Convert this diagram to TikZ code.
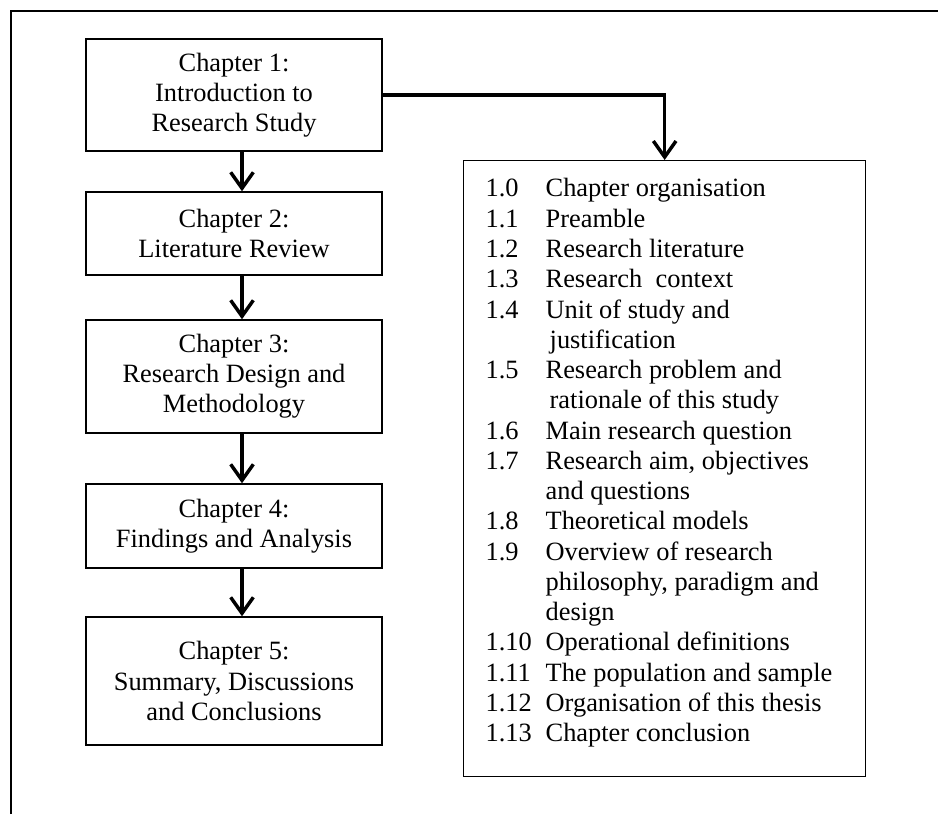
\documentclass[tikz,border=0pt]{standalone}
\usepackage{fontspec}
\setmainfont{Liberation Serif}
\usetikzlibrary{arrows.meta}
\newcommand{\tocitem}[2]{\makebox[45pt][l]{#1}#2}

\begin{document}
\begin{tikzpicture}[
  x=0.75pt, y=-0.75pt,
  chapbox/.style={draw, line width=1.1pt, minimum width=222pt, inner sep=0pt,
              align=center, font=\fontsize{19.8}{22.6}\selectfont},
  arrow/.style={-{Straight Barb[length=12pt, width=17pt]}, line width=2.6pt},
  tocbox/.style={draw, line width=1pt, anchor=north west,
              inner xsep=16.5pt, inner ysep=13.5pt,
              font=\fontsize{19.8}{22.7}\selectfont},
]
  \useasboundingbox (0,0) rectangle (938,814);
  \draw[line width=1.5pt] (11,814) -- (11,11) -- (938,11);

  \node[chapbox, minimum height=84pt]    (ch1) at (234,95)    {Chapter 1:\\Introduction to\\Research Study};
  \node[chapbox, minimum height=62.25pt] (ch2) at (234,233.5) {Chapter 2:\\Literature Review};
  \node[chapbox, minimum height=84.75pt] (ch3) at (234,376.5) {Chapter 3:\\Research Design and\\Methodology};
  \node[chapbox, minimum height=63pt]    (ch4) at (234,526)   {Chapter 4:\\Findings and Analysis};
  \node[chapbox, minimum height=96pt]    (ch5) at (234,681)   {Chapter 5:\\Summary, Discussions\\and Conclusions};

  \node[tocbox] (toc) at (463,160) {\begin{minipage}[t][435pt][t]{268.5pt}
    \tocitem{1.0}{Chapter organisation}\\
    \tocitem{1.1}{Preamble}\\
    \tocitem{1.2}{Research literature}\\
    \tocitem{1.3}{Research \ context}\\
    \tocitem{1.4}{Unit of study and}\\
    \tocitem{}{\hspace{3pt}justification}\\
    \tocitem{1.5}{Research problem and}\\
    \tocitem{}{\hspace{3pt}rationale of this study}\\
    \tocitem{1.6}{Main research question}\\
    \tocitem{1.7}{Research aim, objectives}\\
    \tocitem{}{and questions}\\
    \tocitem{1.8}{Theoretical models}\\
    \tocitem{1.9}{Overview of research}\\
    \tocitem{}{philosophy, paradigm and}\\
    \tocitem{}{design}\\
    \tocitem{1.10}{Operational definitions}\\
    \tocitem{1.11}{The population and sample}\\
    \tocitem{1.12}{Organisation of this thesis}\\
    \tocitem{1.13}{Chapter conclusion}
  \end{minipage}};

  \draw[arrow] ([xshift=6pt]ch1.south) -- ([xshift=6pt]ch2.north);
  \draw[arrow] ([xshift=6pt]ch2.south) -- ([xshift=6pt]ch3.north);
  \draw[arrow] ([xshift=6pt]ch3.south) -- ([xshift=6pt]ch4.north);
  \draw[arrow] ([xshift=6pt]ch4.south) -- ([xshift=6pt]ch5.north);
  \draw[arrow] (ch1.east) -| (toc.north);
\end{tikzpicture}
\end{document}
